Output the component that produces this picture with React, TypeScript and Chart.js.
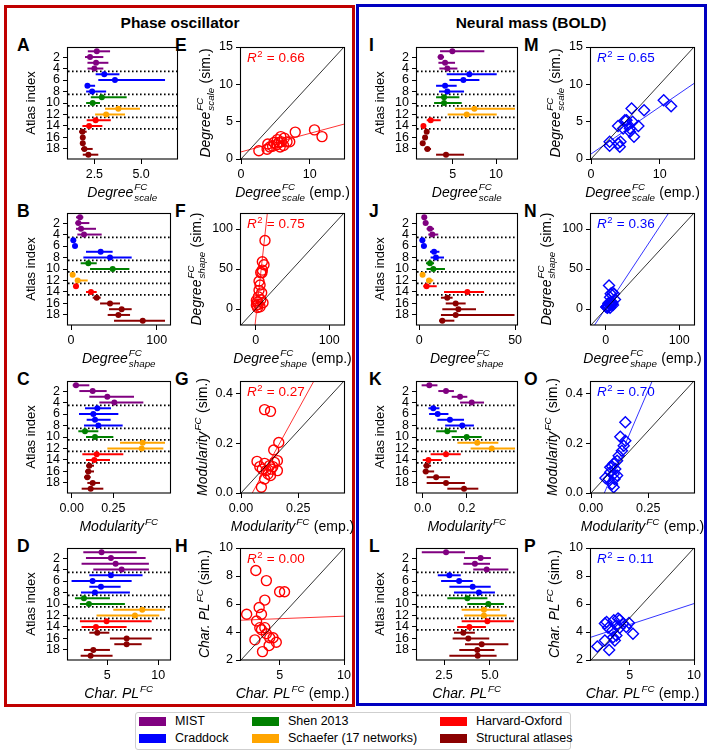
import React, { useEffect, useRef } from "react";
import { Chart, registerables } from "chart.js";
Chart.register(...registerables);

const FONT = '"Liberation Sans", Arial, Helvetica, sans-serif';

// ---------------- categories ----------------
const atlasIndex = [1, 2, 3, 4, 5, 6, 7, 8, 9, 10, 11, 12, 13, 14, 15, 16, 17, 18, 19];
const atlasGroupOf = [0, 0, 0, 0, 1, 1, 1, 1, 2, 2, 3, 3, 4, 4, 5, 5, 5, 5, 5];
const groupNames = ["MIST", "Craddock", "Shen 2013", "Schaefer (17 networks)", "Harvard-Oxford", "Structural atlases"];
const groupColors = ["#800080", "#0000ff", "#008000", "#ffa500", "#ff0000", "#8b0000"];
const groupSeparators = [4.5, 8.5, 10.5, 12.5, 14.5];
const atlasTicks = [2, 4, 6, 8, 10, 12, 14, 16, 18];

// ---------------- Phase oscillator: per-atlas (sim.) ----------------
const phaseScaleMid = [2.63, 2.27, 2.59, 2.5, 3.03, 3.6, 2.13, 2.38, 2.9, 2.41, 3.78, 3.13, 2.57, 2.22, 1.86, 1.88, 1.88, 1.97, 2.18];
const phaseScaleLo = [2.15, 2.0, 2.13, 2.13, 2.57, 2.71, 2.0, 2.06, 2.31, 2.06, 3.07, 2.54, 2.09, 1.86, 1.68, 1.84, 1.84, 1.79, 1.88];
const phaseScaleHi = [3.34, 2.98, 3.25, 2.98, 3.84, 6.28, 2.54, 3.13, 4.23, 2.8, 4.94, 4.14, 3.38, 2.93, 2.09, 1.93, 1.93, 2.41, 2.71];

const phaseShapeMid = [10.5, 8.6, 11.7, 15.2, 2.7, 4.7, 34.6, 45.5, 20.2, 48.6, 1.9, 7.8, 5.8, 23.3, 30.0, 45.5, 59.1, 55.3, 83.7];
const phaseShapeLo = [5.8, 5.1, 5.8, 7.4, 0.4, 1.9, 17.5, 14.4, 11.3, 22.2, 0.0, 4.7, 3.5, 17.5, 25.3, 33.9, 44.4, 42.8, 50.2];
const phaseShapeHi = [14.4, 21.4, 29.2, 35.8, 5.8, 7.4, 48.6, 70.8, 30.0, 68.1, 3.5, 19.5, 8.9, 30.0, 34.6, 57.2, 70.8, 68.9, 109.7];

const phaseModMid = [0.026, 0.126, 0.214, 0.256, 0.154, 0.13, 0.14, 0.16, 0.08, 0.14, 0.426, 0.42, 0.15, 0.136, 0.106, 0.1, 0.094, 0.126, 0.114];
const phaseModLo = [0.006, 0.046, 0.106, 0.166, 0.08, 0.044, 0.09, 0.074, 0.04, 0.086, 0.29, 0.214, 0.064, 0.086, 0.086, 0.08, 0.074, 0.094, 0.06];
const phaseModHi = [0.106, 0.21, 0.374, 0.43, 0.236, 0.28, 0.234, 0.306, 0.16, 0.25, 0.56, 0.55, 0.31, 0.23, 0.134, 0.134, 0.114, 0.17, 0.19];

const phasePathMid = [4.44, 5.36, 5.82, 6.41, 5.36, 3.56, 4.38, 3.79, 2.71, 3.2, 8.43, 7.71, 4.93, 3.89, 4.02, 6.9, 6.9, 3.63, 3.37];
const phasePathLo = [2.65, 2.91, 2.48, 3.63, 3.24, 1.5, 3.24, 2.42, 1.83, 2.32, 5.59, 3.95, 2.32, 2.48, 3.24, 5.26, 5.69, 2.71, 2.39];
const phasePathHi = [7.88, 8.76, 9.08, 9.08, 8.46, 7.39, 6.31, 7.22, 5.26, 6.73, 10.65, 10.1, 9.35, 6.9, 5.2, 9.35, 8.37, 5.26, 5.52];

// ---------------- Neural mass (BOLD): per-atlas (sim.) ----------------
const boldScaleMid = [4.96, 3.62, 4.12, 4.38, 6.92, 6.23, 4.12, 4.38, 4.0, 4.0, 7.5, 6.62, 2.46, 1.62, 2.0, 1.81, 1.54, 2.08, 4.23];
const boldScaleLo = [3.54, 3.27, 3.35, 3.46, 4.31, 4.62, 3.08, 3.42, 3.08, 2.85, 5.27, 4.42, 2.0, 1.35, 1.81, 1.65, 1.4, 1.73, 3.08];
const boldScaleHi = [8.65, 4.0, 5.27, 5.54, 10.08, 8.08, 5.46, 6.31, 5.77, 6.04, 12.19, 10.08, 3.62, 1.92, 2.19, 1.96, 1.7, 2.5, 6.31];

const boldShapeMid = [2.6, 3.3, 5.6, 6.8, 1.6, 2.4, 7.7, 8.7, 5.6, 7.3, 1.7, 5.1, 3.8, 25.1, 14.6, 19.0, 20.4, 19.0, 12.0];
const boldShapeLo = [1.7, 2.1, 3.8, 4.7, 0.3, 1.2, 5.6, 5.9, 3.5, 3.8, 0.9, 3.5, 2.1, 12.9, 11.3, 13.8, 12.0, 11.3, 10.3];
const boldShapeHi = [3.5, 4.7, 7.7, 9.9, 3.0, 3.8, 10.5, 12.9, 7.7, 13.4, 2.6, 7.3, 9.1, 33.8, 17.4, 24.2, 29.6, 49.7, 18.3];

const boldModMid = [0.03, 0.106, 0.17, 0.223, 0.048, 0.068, 0.124, 0.18, 0.112, 0.2, 0.248, 0.314, 0.106, 0.026, 0.018, 0.014, 0.061, 0.106, 0.188];
const boldModLo = [-0.005, 0.071, 0.132, 0.17, 0.026, 0.029, 0.067, 0.102, 0.061, 0.132, 0.158, 0.218, 0.036, 0.0, 0.003, 0.0, 0.018, 0.018, 0.112];
const boldModHi = [0.067, 0.142, 0.203, 0.279, 0.076, 0.117, 0.188, 0.233, 0.155, 0.268, 0.344, 0.42, 0.173, 0.086, 0.038, 0.052, 0.124, 0.192, 0.253];

const boldPathMid = [2.61, 4.49, 4.18, 4.82, 2.79, 3.32, 4.06, 4.4, 3.77, 4.91, 4.67, 4.67, 4.86, 3.88, 3.55, 3.82, 4.55, 4.31, 4.33];
const boldPathLo = [1.29, 3.59, 3.55, 4.09, 2.16, 2.34, 2.79, 3.04, 2.68, 3.77, 3.46, 3.59, 3.46, 3.22, 3.04, 2.97, 3.64, 3.33, 2.79];
const boldPathHi = [3.64, 5.05, 5.0, 6.0, 3.41, 4.06, 5.04, 5.27, 4.86, 5.76, 5.54, 5.91, 6.3, 4.78, 4.18, 4.96, 6.0, 5.24, 5.36];

// ---------------- emp. vs sim. scatter data ----------------
const phaseScaleEmp = [2.6, 3.8, 3.9, 4.2, 4.6, 4.8, 5.2, 5.3, 5.5, 5.7, 5.8, 5.9, 6.2, 6.3, 6.7, 7.1, 7.9, 10.7, 11.8];
const phaseScaleSim = [1.1, 1.3, 2.0, 1.6, 1.7, 2.2, 1.9, 2.6, 2.2, 1.6, 3.0, 2.3, 1.8, 2.8, 2.3, 2.3, 3.6, 3.9, 3.0];
const phaseScaleFit = [0.95, 0.248];
const phaseScaleR2 = 0.66;

const phaseShapeEmp = [0.9, 2.3, 6.8, 3.6, 5.9, 0.9, 4.5, 8.5, 8.1, 9.0, 2.5, 9.9, 3.6, 4.5, 5.9, 6.8, 9.0, 11.3, 12.6];
const phaseShapeSim = [10.5, 8.6, 11.7, 15.2, 2.7, 4.7, 34.6, 45.5, 20.2, 48.6, 1.9, 7.8, 5.8, 23.3, 30.0, 45.5, 59.1, 55.3, 85.7];
const phaseShapeFit = [-12.5, 8.38];
const phaseShapeR2 = 0.75;

const phaseModEmp = [0.103, 0.129, 0.165, 0.143, 0.07, 0.103, 0.125, 0.159, 0.159, 0.093, 0.11, 0.139, 0.118, 0.103, 0.129, 0.089, 0.146, 0.082, 0.132];
const phaseModSim = [0.335, 0.328, 0.203, 0.173, 0.127, 0.119, 0.11, 0.13, 0.09, 0.096, 0.09, 0.106, 0.076, 0.056, 0.07, 0.023, 0.123, 0.106, 0.096];
const phaseModFit = [-0.082, 1.67];
const phaseModR2 = 0.27;

const phasePathEmp = [3.15, 3.97, 2.44, 3.41, 3.85, 3.59, 3.21, 3.46, 3.85, 3.97, 4.23, 4.49, 4.74, 3.08, 4.18, 3.67, 5.0, 5.38, 3.59];
const phasePathSim = [8.39, 7.67, 5.27, 5.75, 6.28, 5.27, 4.79, 4.31, 4.31, 3.88, 3.59, 3.59, 3.27, 3.44, 3.03, 2.6, 6.88, 6.88, 4.16];
const phasePathFit = [4.77, 0.036];
const phasePathR2 = 0.0;

const boldScaleEmp = [2.71, 2.71, 3.94, 4.19, 4.29, 3.94, 4.68, 5.17, 5.42, 5.67, 5.91, 6.06, 6.26, 5.67, 6.9, 7.73, 10.59, 11.67, 4.93];
const boldScaleSim = [1.78, 2.31, 2.09, 1.65, 2.31, 4.41, 4.09, 5.2, 4.54, 4.09, 6.76, 4.98, 2.98, 3.65, 4.41, 6.54, 7.88, 7.08, 5.2];
const boldScaleFit = [0.67, 0.63];
const boldScaleR2 = 0.65;

const boldShapeEmp = [0.9, 2.3, 6.8, 3.6, 5.9, 0.9, 4.5, 8.5, 8.1, 9.0, 2.5, 9.9, 3.6, 4.5, 5.9, 6.8, 9.0, 11.3, 12.6];
const boldShapeSim = [2.6, 3.3, 5.6, 6.8, 1.6, 2.4, 7.7, 8.7, 5.6, 7.3, 1.7, 5.1, 3.8, 29.5, 14.6, 19.0, 20.4, 19.0, 12.0];
const boldShapeFit = [1.0, 1.39];
const boldShapeR2 = 0.36;

const boldModEmp = [0.15, 0.128, 0.15, 0.143, 0.135, 0.121, 0.114, 0.099, 0.092, 0.106, 0.084, 0.099, 0.063, 0.077, 0.103, 0.092, 0.099, 0.114, 0.084];
const boldModSim = [0.284, 0.226, 0.21, 0.19, 0.17, 0.15, 0.13, 0.119, 0.106, 0.096, 0.083, 0.076, 0.06, 0.056, 0.056, 0.036, 0.023, 0.07, 0.103];
const boldModFit = [-0.125, 2.15];
const boldModR2 = 0.7;

const boldPathEmp = [2.49, 3.08, 3.41, 3.21, 3.77, 3.97, 4.1, 3.67, 3.97, 4.23, 4.49, 4.74, 4.95, 5.26, 3.33, 3.72, 3.85, 4.23, 3.08];
const boldPathSim = [2.96, 3.39, 2.72, 4.72, 4.84, 4.48, 4.96, 4.12, 3.75, 4.31, 4.6, 4.36, 4.64, 3.88, 4.31, 3.63, 3.39, 4.88, 4.6];
const boldPathFit = [3.03, 0.3];
const boldPathR2 = 0.11;

// ---------------- layout ----------------
const PAD_L = 62, PAD_T = 16, PAD_R = 16, PAD_B = 50;
const COL_L = [68, 241, 417, 591];
const COL_W = [102, 103, 100, 103];
const ROW_T = [47, 213, 381, 548];
const ROW_H = 112;

type MathLabel = { base: string; sup?: string; sub?: string; suffix?: string; plain?: boolean };

function drawMath(ctx: CanvasRenderingContext2D, m: MathLabel, cx: number, by: number, size: number, color: string) {
  const fBase = `${m.plain ? "" : "italic "}${size}px ${FONT}`;
  const sSize = Math.round(size * 0.7 * 10) / 10;
  const fSmall = `italic ${sSize}px ${FONT}`;
  const fNorm = `${size}px ${FONT}`;
  ctx.font = fBase;
  const wb = ctx.measureText(m.base).width;
  ctx.font = fSmall;
  const wsup = m.sup ? ctx.measureText(m.sup).width : 0;
  const wsub = m.sub ? ctx.measureText(m.sub).width : 0;
  const ws = m.sup || m.sub ? Math.max(wsup, wsub) + 1.5 : 0;
  ctx.font = fNorm;
  const wf = m.suffix ? ctx.measureText(m.suffix).width : 0;
  const x0 = cx - (wb + ws + wf) / 2;
  ctx.fillStyle = color;
  ctx.textAlign = "left";
  ctx.textBaseline = "alphabetic";
  ctx.font = fBase;
  ctx.fillText(m.base, x0, by);
  ctx.font = fSmall;
  if (m.sup) ctx.fillText(m.sup, x0 + wb + 1, by - size * (m.sub ? 0.48 : 0.45));
  if (m.sub) ctx.fillText(m.sub, x0 + wb + 1, by + size * 0.3);
  ctx.font = fNorm;
  if (m.suffix) ctx.fillText(m.suffix, x0 + wb + ws, by);
}

function drawR2(ctx: CanvasRenderingContext2D, value: number, x: number, by: number, color: string) {
  const size = 13.5;
  ctx.fillStyle = color;
  ctx.textAlign = "left";
  ctx.textBaseline = "alphabetic";
  ctx.font = `italic ${size}px ${FONT}`;
  ctx.fillText("R", x, by);
  const wr = ctx.measureText("R").width;
  ctx.font = `${9.5}px ${FONT}`;
  ctx.fillText("2", x + wr + 0.5, by - 5.5);
  const w2 = ctx.measureText("2").width;
  ctx.font = `${size}px ${FONT}`;
  ctx.fillText(" = " + value.toFixed(2), x + wr + w2 + 1, by);
}

type Decor = {
  xLabel: MathLabel;
  yLabel: MathLabel;
  yOff: number;
  separators?: number[];
  r2?: number;
  r2Color?: string;
};

function labelSize(m: MathLabel) {
  return m.plain ? 13 : 14;
}

function decorPlugin(d: Decor) {
  return {
    id: "decor",
    beforeDatasetsDraw(chart: any) {
      if (!d.separators) return;
      const { ctx, chartArea: a } = chart;
      const ys = chart.scales.y;
      ctx.save();
      ctx.strokeStyle = "#000";
      ctx.lineWidth = 1.6;
      ctx.setLineDash([1.6, 2.4]);
      d.separators.forEach((v) => {
        const py = ys.getPixelForValue(v);
        ctx.beginPath();
        ctx.moveTo(a.left, py);
        ctx.lineTo(a.right, py);
        ctx.stroke();
      });
      ctx.restore();
    },
    afterDraw(chart: any) {
      const { ctx, chartArea: a } = chart;
      ctx.save();
      ctx.setLineDash([]);
      ctx.strokeStyle = "#000";
      ctx.lineWidth = 1.1;
      ctx.strokeRect(Math.round(a.left) - 0.5, Math.round(a.top) + 0.5, Math.round(a.right - a.left) + 1, Math.round(a.bottom - a.top) - 0.5);
      drawMath(ctx, d.xLabel, (a.left + a.right) / 2, a.bottom + 38, labelSize(d.xLabel), "#000");
      ctx.save();
      ctx.translate(a.left - d.yOff, (a.top + a.bottom) / 2);
      ctx.rotate(-Math.PI / 2);
      drawMath(ctx, d.yLabel, 0, 0, labelSize(d.yLabel), "#000");
      ctx.restore();
      if (d.r2 !== undefined) drawR2(ctx, d.r2, a.left + 6, a.top + 15, d.r2Color || "#000");
      ctx.restore();
    },
  };
}

function makeScale(axis: "x" | "y", min: number, max: number, ticks: number[], dec: number, reverse = false) {
  return {
    type: "linear",
    min,
    max,
    reverse,
    offset: false,
    afterBuildTicks: (s: any) => {
      s.ticks = ticks.map((v) => ({ value: v }));
    },
    afterFit: (s: any) => {
      if (axis === "x") s.height = PAD_B;
      else s.width = PAD_L;
    },
    grid: { display: true, drawOnChartArea: false, drawTicks: true, tickLength: 5, color: "#000", lineWidth: 1, offset: false },
    border: { display: false },
    ticks: {
      callback: (v: any) => Number(v).toFixed(dec),
      font: { family: FONT, size: 12.5 },
      color: "#000",
      padding: 3,
      autoSkip: false,
      maxRotation: 0,
      minRotation: 0,
    },
  };
}

function baseOptions(scales: any) {
  return {
    animation: false,
    responsive: false,
    maintainAspectRatio: false,
    events: [],
    layout: { padding: { left: 0, top: PAD_T, right: PAD_R, bottom: 0 } },
    plugins: { legend: { display: false }, tooltip: { enabled: false } },
    scales,
  };
}

type AtlasPanel = {
  col: number; row: number;
  mid: number[]; lo: number[]; hi: number[];
  xMin: number; xMax: number; xTicks: number[]; dec: number;
  xLabel: MathLabel; width?: number;
};

function atlasConfig(p: AtlasPanel) {
  const colors = atlasGroupOf.map((g) => groupColors[g]);
  const datasets: any[] = atlasIndex.map((idx, i) => ({
    type: "line",
    data: [{ x: p.lo[i], y: idx }, { x: p.hi[i], y: idx }],
    borderColor: colors[i],
    borderWidth: 2,
    pointRadius: 0,
    fill: false,
  }));
  datasets.push({
    type: "scatter",
    data: atlasIndex.map((idx, i) => ({ x: p.mid[i], y: idx })),
    pointRadius: 3,
    pointBackgroundColor: colors,
    pointBorderWidth: 0,
  });
  return {
    type: "scatter",
    data: { datasets },
    options: baseOptions({
      x: makeScale("x", p.xMin, p.xMax, p.xTicks, p.dec),
      y: makeScale("y", 0.25, 19.75, atlasTicks, 0, true),
    }),
    plugins: [decorPlugin({ xLabel: p.xLabel, yLabel: { base: "Atlas index", plain: true }, yOff: 33, separators: groupSeparators })],
  };
}

type ScatterPanel = {
  col: number; row: number;
  emp: number[]; sim: number[]; fit: number[]; r2: number;
  min: number; max: number; xTicks: number[]; yTicks: number[]; xDec: number; yDec: number;
  color: string; marker: string; label: MathLabel; yOff: number;
};

function scatterConfig(p: ScatterPanel) {
  const datasets: any[] = [
    {
      type: "line",
      data: [{ x: p.min, y: p.min }, { x: p.max, y: p.max }],
      borderColor: "#000",
      borderWidth: 0.8,
      pointRadius: 0,
      fill: false,
    },
    {
      type: "line",
      data: [
        { x: p.min, y: p.fit[0] + p.fit[1] * p.min },
        { x: p.max, y: p.fit[0] + p.fit[1] * p.max },
      ],
      borderColor: p.color,
      borderWidth: 0.8,
      pointRadius: 0,
      fill: false,
    },
    {
      type: "scatter",
      data: p.emp.map((x, i) => ({ x, y: p.sim[i] })),
      pointStyle: p.marker,
      pointRadius: p.marker === "rectRot" ? 5.5 : 5,
      pointBackgroundColor: "rgba(0,0,0,0)",
      pointBorderColor: p.color,
      pointBorderWidth: 1.4,
    },
  ];
  return {
    type: "scatter",
    data: { datasets },
    options: baseOptions({
      x: makeScale("x", p.min, p.max, p.xTicks, p.xDec),
      y: makeScale("y", p.min, p.max, p.yTicks, p.yDec),
    }),
    plugins: [
      decorPlugin({
        xLabel: { ...p.label, suffix: " (emp.)" },
        yLabel: { ...p.label, suffix: " (sim.)" },
        yOff: p.yOff,
        r2: p.r2,
        r2Color: p.color,
      }),
    ],
  };
}

const LBL_SCALE: MathLabel = { base: "Degree", sup: "FC", sub: "scale" };
const LBL_SHAPE: MathLabel = { base: "Degree", sup: "FC", sub: "shape" };
const LBL_MOD: MathLabel = { base: "Modularity", sup: "FC" };
const LBL_PATH: MathLabel = { base: "Char. PL", sup: "FC" };

const atlasPanels: AtlasPanel[] = [
  { col: 0, row: 0, mid: phaseScaleMid, lo: phaseScaleLo, hi: phaseScaleHi, xMin: 1.09, xMax: 6.92, xTicks: [2.5, 5], dec: 1, xLabel: LBL_SCALE, width: 109 },
  { col: 0, row: 1, mid: phaseShapeMid, lo: phaseShapeLo, hi: phaseShapeHi, xMin: -3.5, xMax: 115.5, xTicks: [0, 100], dec: 0, xLabel: LBL_SHAPE },
  { col: 0, row: 2, mid: phaseModMid, lo: phaseModLo, hi: phaseModHi, xMin: -0.022, xMax: 0.59, xTicks: [0, 0.25], dec: 2, xLabel: LBL_MOD },
  { col: 0, row: 3, mid: phasePathMid, lo: phasePathLo, hi: phasePathHi, xMin: 1.15, xMax: 11.15, xTicks: [5, 10], dec: 0, xLabel: LBL_PATH },
  { col: 2, row: 0, mid: boldScaleMid, lo: boldScaleLo, hi: boldScaleHi, xMin: 0.88, xMax: 12.42, xTicks: [5, 10], dec: 0, xLabel: LBL_SCALE },
  { col: 2, row: 1, mid: boldShapeMid, lo: boldShapeLo, hi: boldShapeHi, xMin: -1.2, xMax: 51, xTicks: [0, 50], dec: 0, xLabel: LBL_SHAPE },
  { col: 2, row: 2, mid: boldModMid, lo: boldModLo, hi: boldModHi, xMin: -0.026, xMax: 0.429, xTicks: [0, 0.2], dec: 1, xLabel: LBL_MOD },
  { col: 2, row: 3, mid: boldPathMid, lo: boldPathLo, hi: boldPathHi, xMin: 1.03, xMax: 6.47, xTicks: [2.5, 5], dec: 1, xLabel: LBL_PATH },
];

const RED = "#ff0000";
const BLUE = "#0000ff";

const scatterPanels: ScatterPanel[] = [
  { col: 1, row: 0, emp: phaseScaleEmp, sim: phaseScaleSim, fit: phaseScaleFit, r2: phaseScaleR2, min: 0, max: 15, xTicks: [0, 10], yTicks: [0, 5, 10, 15], xDec: 0, yDec: 0, color: RED, marker: "circle", label: LBL_SCALE, yOff: 31 },
  { col: 1, row: 1, emp: phaseShapeEmp, sim: phaseShapeSim, fit: phaseShapeFit, r2: phaseShapeR2, min: -20, max: 120, xTicks: [0, 100], yTicks: [0, 50, 100], xDec: 0, yDec: 0, color: RED, marker: "circle", label: LBL_SHAPE, yOff: 40 },
  { col: 1, row: 2, emp: phaseModEmp, sim: phaseModSim, fit: phaseModFit, r2: phaseModR2, min: 0, max: 0.45, xTicks: [0, 0.25], yTicks: [0, 0.2, 0.4], xDec: 2, yDec: 1, color: RED, marker: "circle", label: LBL_MOD, yOff: 34 },
  { col: 1, row: 3, emp: phasePathEmp, sim: phasePathSim, fit: phasePathFit, r2: phasePathR2, min: 2, max: 10, xTicks: [5, 10], yTicks: [2, 4, 6, 8, 10], xDec: 0, yDec: 0, color: RED, marker: "circle", label: LBL_PATH, yOff: 32 },
  { col: 3, row: 0, emp: boldScaleEmp, sim: boldScaleSim, fit: boldScaleFit, r2: boldScaleR2, min: 0, max: 15, xTicks: [0, 10], yTicks: [0, 5, 10, 15], xDec: 0, yDec: 0, color: BLUE, marker: "rectRot", label: LBL_SCALE, yOff: 31 },
  { col: 3, row: 1, emp: boldShapeEmp, sim: boldShapeSim, fit: boldShapeFit, r2: boldShapeR2, min: -20, max: 120, xTicks: [0, 100], yTicks: [0, 50, 100], xDec: 0, yDec: 0, color: BLUE, marker: "rectRot", label: LBL_SHAPE, yOff: 40 },
  { col: 3, row: 2, emp: boldModEmp, sim: boldModSim, fit: boldModFit, r2: boldModR2, min: 0, max: 0.45, xTicks: [0, 0.25], yTicks: [0, 0.2, 0.4], xDec: 2, yDec: 1, color: BLUE, marker: "rectRot", label: LBL_MOD, yOff: 34 },
  { col: 3, row: 3, emp: boldPathEmp, sim: boldPathSim, fit: boldPathFit, r2: boldPathR2, min: 2, max: 10, xTicks: [5, 10], yTicks: [2, 4, 6, 8, 10], xDec: 0, yDec: 0, color: BLUE, marker: "rectRot", label: LBL_PATH, yOff: 32 },
];

const panelLetters = [
  ["A", "B", "C", "D"],
  ["E", "F", "G", "H"],
  ["I", "J", "K", "L"],
  ["M", "N", "O", "P"],
];
const letterX = [17, 175, 369, 524];

function ChartPanel({ left, top, width, height, build }: { left: number; top: number; width: number; height: number; build: () => any }) {
  const ref = useRef<HTMLCanvasElement>(null);
  useEffect(() => {
    const chart = new Chart(ref.current as HTMLCanvasElement, build());
    return () => chart.destroy();
  }, []);
  const cw = width + PAD_L + PAD_R;
  const ch = height + PAD_T + PAD_B;
  return (
    <canvas
      ref={ref}
      width={cw}
      height={ch}
      style={{ position: "absolute", left: left - PAD_L, top: top - PAD_T, width: cw, height: ch }}
    />
  );
}

export default function App() {
  const legendCols = [
    { patchX: 139, textX: 175 },
    { patchX: 252, textX: 288 },
    { patchX: 440, textX: 476 },
  ];
  return (
    <div style={{ position: "absolute", left: 0, top: 0, width: 711, height: 753, background: "#fff", fontFamily: FONT, overflow: "hidden" }}>
      <div style={{ position: "absolute", left: 4, top: 5, width: 351, height: 702, boxSizing: "border-box", border: "3px solid #c00000" }} />
      <div style={{ position: "absolute", left: 356, top: 4, width: 351, height: 702, boxSizing: "border-box", border: "3px solid #0000c0" }} />
      <div style={{ position: "absolute", left: 0, top: 15, width: 360, textAlign: "center", fontSize: 15.5, lineHeight: "15.5px", fontWeight: "bold", color: "#000" }}>
        Phase oscillator
      </div>
      <div style={{ position: "absolute", left: 355, top: 15, width: 352, textAlign: "center", fontSize: 15.5, lineHeight: "15.5px", fontWeight: "bold", color: "#000" }}>
        Neural mass (BOLD)
      </div>
      {panelLetters.map((colLetters, c) =>
        colLetters.map((L, r) => (
          <div
            key={L}
            style={{ position: "absolute", left: letterX[c], top: ROW_T[r] - 10, fontSize: 17.5, lineHeight: "17.5px", fontWeight: "bold", color: "#000" }}
          >
            {L}
          </div>
        ))
      )}
      {atlasPanels.map((p, i) => (
        <ChartPanel
          key={"a" + i}
          left={COL_L[p.col]}
          top={ROW_T[p.row]}
          width={p.width || COL_W[p.col]}
          height={ROW_H}
          build={() => atlasConfig(p)}
        />
      ))}
      {scatterPanels.map((p, i) => (
        <ChartPanel
          key={"s" + i}
          left={COL_L[p.col]}
          top={ROW_T[p.row]}
          width={COL_W[p.col]}
          height={ROW_H}
          build={() => scatterConfig(p)}
        />
      ))}
      <div style={{ position: "absolute", left: 135, top: 712, width: 436, height: 38, boxSizing: "border-box", border: "1px solid #cfcfcf", borderRadius: 3, background: "#fff" }} />
      {groupNames.map((name, g) => {
        const col = legendCols[Math.floor(g / 2)];
        const cy = g % 2 === 0 ? 721 : 738;
        return (
          <React.Fragment key={name}>
            <div style={{ position: "absolute", left: col.patchX, top: cy - 4.5, width: 27, height: 9, background: groupColors[g] }} />
            <div style={{ position: "absolute", left: col.textX, top: cy - 6.5, fontSize: 12.5, lineHeight: "13px", color: "#000", whiteSpace: "nowrap" }}>
              {name}
            </div>
          </React.Fragment>
        );
      })}
    </div>
  );
}
